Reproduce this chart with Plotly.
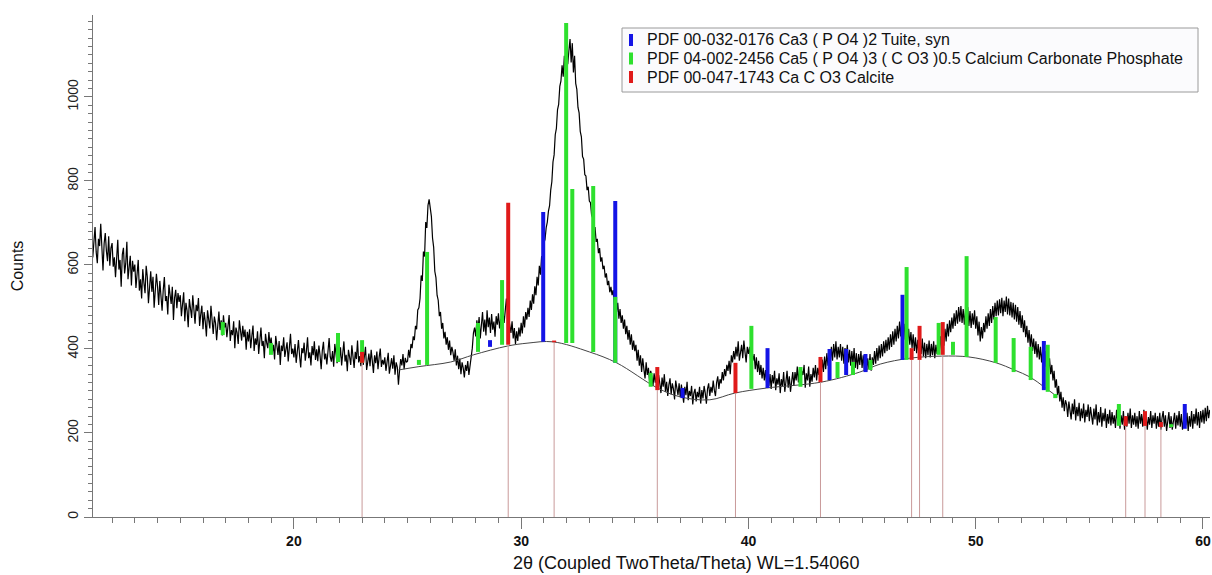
import plotly.graph_objects as go

# ---------------- data ----------------
# scan: rows of counts, each row starts at the given 2theta, step 0.05 deg
scan_step = 0.05
row_starts = [11.1] + [float(d) for d in range(12, 61)]
count_rows = [
    [672, 618, 655, 690, 631, 604, 662, 645, 698, 620, 587, 651, 676, 633, 609, 668, 598, 640],
    [652, 596, 618, 571, 634, 660, 589, 612, 548, 625, 641, 580, 603, 655, 566, 598, 622, 551, 610, 584],
    [601, 545, 578, 612, 539, 566, 520, 590, 557, 533, 598, 571, 509, 560, 585, 536, 572, 498, 555, 579],
    [549, 505, 562, 528, 491, 540, 571, 514, 526, 482, 553, 530, 507, 548, 469, 522, 541, 497, 533, 512],
    [528, 478, 502, 535, 466, 510, 491, 452, 519, 497, 474, 528, 486, 460, 505, 490, 521, 455, 482, 503],
    [447, 488, 465, 430, 492, 471, 449, 503, 458, 436, 477, 462, 421, 470, 489, 445, 468, 432, 480, 451],
    [462, 428, 450, 481, 419, 445, 433, 466, 402, 451, 439, 412, 468, 437, 420, 455, 428, 446, 398, 441],
    [418, 447, 402, 431, 456, 395, 425, 410, 442, 388, 429, 451, 407, 419, 378, 436, 415, 402, 440, 409],
    [427, 392, 410, 375, 431, 403, 386, 419, 362, 408, 395, 428, 381, 399, 416, 370, 405, 436, 388, 401],
    [380, 412, 367, 398, 421, 384, 356, 402, 390, 415, 372, 395, 428, 378, 392, 361, 407, 385, 418, 374],
    [399, 371, 408, 385, 352, 396, 417, 375, 389, 363, 402, 426, 381, 370, 395, 358, 412, 384, 366, 398],
    [375, 404, 361, 390, 418, 370, 386, 347, 398, 381, 362, 409, 388, 355, 393, 376, 420, 368, 383, 359],
    [396, 362, 381, 405, 350, 377, 389, 359, 398, 371, 343, 385, 366, 394, 352, 380, 401, 357, 374, 363],
    [380, 348, 372, 391, 341, 366, 378, 353, 385, 339, 368, 357, 315, 350, 376, 361, 388, 352, 379, 368],
    [371, 398, 379, 412, 402, 430, 421, 455, 447, 493, 498, 520, 575, 562, 632, 620, 702, 688, 742, 756],
    [728, 715, 664, 642, 585, 570, 528, 516, 478, 488, 448, 462, 425, 441, 410, 428, 398, 420, 385, 405],
    [392, 372, 399, 361, 384, 352, 377, 340, 368, 355, 332, 362, 348, 371, 338, 358, 384, 402, 438, 451],
    [430, 468, 447, 476, 425, 459, 488, 441, 470, 432, 492, 452, 475, 438, 483, 446, 465, 429, 478, 458],
    [485, 449, 472, 441, 490, 462, 505, 520, 492, 471, 458, 438, 466, 425, 450, 412, 442, 419, 451, 430],
    [462, 437, 478, 451, 488, 470, 498, 476, 515, 493, 530, 508, 549, 528, 572, 551, 598, 577, 621, 612],
    [652, 661, 688, 702, 728, 741, 778, 798, 845, 862, 910, 925, 970, 982, 1025, 1038, 1075, 1048, 1098, 1062],
    [1125, 1078, 1110, 1138, 1082, 1128, 1058, 1098, 1032, 1018, 975, 962, 918, 905, 858, 852, 815, 812, 778, 786],
    [752, 748, 718, 712, 682, 690, 655, 662, 628, 640, 608, 618, 590, 598, 570, 580, 552, 562, 535, 548],
    [528, 540, 505, 522, 488, 510, 472, 495, 462, 480, 448, 470, 435, 455, 422, 445, 410, 435, 398, 420],
    [395, 410, 372, 398, 360, 385, 345, 378, 352, 330, 368, 338, 355, 322, 348, 335, 312, 342, 320, 336],
    [305, 338, 318, 295, 332, 310, 340, 298, 322, 288, 315, 330, 292, 318, 305, 280, 325, 302, 290, 318],
    [285, 315, 298, 272, 310, 290, 322, 278, 300, 288, 312, 268, 295, 305, 275, 298, 285, 310, 270, 302],
    [282, 312, 295, 270, 305, 318, 288, 310, 296, 325, 302, 288, 320, 335, 305, 328, 318, 345, 325, 352],
    [335, 362, 348, 372, 340, 385, 368, 395, 375, 405, 382, 418, 372, 398, 410, 378, 420, 392, 368, 405],
    [388, 405, 368, 395, 372, 388, 352, 380, 345, 372, 338, 362, 330, 355, 325, 350, 318, 345, 312, 340],
    [305, 338, 318, 348, 302, 330, 315, 342, 295, 328, 312, 345, 298, 322, 348, 308, 335, 298, 325, 345],
    [312, 345, 325, 358, 320, 352, 315, 348, 338, 362, 308, 342, 325, 358, 310, 340, 322, 355, 332, 362],
    [325, 355, 338, 368, 340, 375, 345, 382, 352, 390, 360, 398, 365, 405, 372, 412, 380, 418, 375, 405],
    [380, 412, 372, 405, 365, 402, 378, 410, 368, 398, 360, 395, 365, 402, 355, 390, 352, 388, 362, 395],
    [355, 385, 350, 382, 345, 378, 352, 388, 348, 380, 362, 395, 365, 402, 372, 408, 378, 412, 382, 418],
    [390, 422, 395, 428, 398, 435, 405, 442, 410, 448, 418, 455, 425, 465, 430, 470, 432, 460, 422, 455],
    [418, 448, 410, 440, 402, 435, 395, 428, 390, 422, 385, 418, 388, 425, 382, 415, 378, 412, 385, 420],
    [380, 412, 385, 418, 378, 410, 388, 425, 392, 430, 398, 435, 408, 448, 418, 460, 430, 468, 440, 475],
    [448, 485, 455, 492, 460, 500, 465, 502, 462, 495, 458, 492, 462, 500, 455, 490, 450, 485, 458, 492],
    [448, 478, 432, 465, 418, 452, 425, 462, 440, 478, 448, 485, 455, 495, 462, 502, 470, 510, 478, 515],
    [480, 518, 485, 522, 478, 515, 488, 525, 482, 520, 480, 512, 475, 510, 470, 505, 465, 500, 458, 490],
    [450, 480, 440, 468, 428, 455, 415, 445, 405, 435, 395, 425, 388, 418, 380, 412, 375, 405, 368, 398],
    [365, 395, 358, 388, 350, 378, 340, 362, 325, 348, 308, 328, 290, 312, 275, 298, 260, 285, 252, 278],
    [268, 238, 275, 250, 232, 270, 245, 280, 230, 262, 240, 272, 228, 258, 235, 270, 225, 255, 238, 268],
    [228, 262, 235, 220, 258, 232, 268, 218, 250, 225, 262, 215, 248, 228, 258, 212, 245, 222, 255, 218],
    [250, 222, 242, 212, 255, 228, 248, 210, 242, 220, 252, 208, 240, 215, 248, 222, 258, 212, 242, 220],
    [248, 215, 240, 210, 252, 222, 245, 215, 255, 218, 242, 208, 238, 220, 252, 212, 242, 222, 248, 210],
    [240, 215, 248, 208, 236, 252, 215, 242, 205, 235, 250, 212, 240, 208, 232, 248, 210, 242, 218, 252],
    [215, 245, 208, 238, 255, 218, 248, 205, 240, 215, 252, 210, 245, 222, 258, 218, 250, 212, 252, 225],
    [255, 222, 260, 228, 265, 235, 255],
]

# background (amorphous hump) curve
bg_x = [24.6, 25.5, 26.9, 27.9, 29.4, 30.3, 31.4, 33.0, 34.2, 36.0, 37.0, 38.3,
        39.4, 40.8, 43.2, 44.9, 45.8, 47.1, 48.5, 49.7, 50.9, 51.7, 52.4, 53.0, 53.6]
bg_y = [350, 358, 369, 386, 407, 414, 417, 393, 367, 307, 286, 279,
        295, 307, 321, 345, 364, 378, 383, 381, 367, 350, 333, 310, 286]

# reference patterns: position, base, top
tuite_x = [28.63, 30.97, 34.14, 37.1, 40.84, 43.57, 44.3, 45.15, 46.78, 53.0, 59.2]
tuite_base = [405, 417, 367, 283, 307, 326, 338, 345, 374, 302, 210]
tuite_top = [421, 726, 752, 307, 402, 400, 400, 388, 529, 419, 269]

ccp_x = [16.87, 18.99, 21.94, 23.0, 25.5, 25.86, 28.1, 29.16, 31.98, 32.25, 33.17,
         34.14, 35.7, 40.13, 42.29, 43.92, 44.6, 45.37, 46.96, 48.37, 49.0, 49.6,
         50.88, 51.67, 52.42, 53.17, 53.5, 56.3, 58.6]
ccp_base = [433, 386, 369, 367, 362, 362, 393, 410, 414, 414, 393,
            367, 310, 305, 310, 331, 338, 350, 374, 386, 386, 381,
            367, 345, 326, 298, 283, 217, 214]
ccp_top = [464, 414, 438, 421, 374, 631, 462, 564, 1176, 781, 788,
           524, 343, 455, 357, 369, 369, 374, 595, 462, 417, 621,
           476, 426, 405, 410, 293, 269, 221]

calcite_x = [23.0, 29.43, 31.45, 35.99, 39.43, 43.17, 47.18, 47.53, 48.55, 56.6, 57.45, 58.15]
calcite_base = [367, 410, 416, 302, 295, 321, 374, 374, 386, 217, 217, 214]
calcite_top = [393, 748, 420, 357, 367, 381, 402, 455, 464, 240, 252, 226]

names = ["PDF 00-032-0176 Ca3 ( P O4 )2 Tuite, syn",
         "PDF 04-002-2456 Ca5 ( P O4 )3 ( C O3 )0.5 Calcium Carbonate Phosphate",
         "PDF 00-047-1743 Ca C O3 Calcite"]
colors = ["#1414e6", "#2ee02e", "#e01a1a"]

x_title = "2θ (Coupled TwoTheta/Theta) WL=1.54060"
y_title = "Counts"

# ---------------- build scan arrays ----------------
two_theta, counts = [], []
for start, row in zip(row_starts, count_rows):
    for i, c in enumerate(row):
        two_theta.append(round(start + i * scan_step, 2))
        counts.append(c)

# ---------------- figure ----------------
W, H = 1212, 575
ML, MR, MT, MB = 93, 2, 15, 58
PW, PH = W - ML - MR, H - MT - MB


def px_x(px):
    return (px - ML) / PW


def px_y(py):
    return (H - MB - py) / PH


def sticks(xs, y0s, y1s):
    sx, sy = [], []
    for xv, a, b in zip(xs, y0s, y1s):
        sx += [xv, xv, None]
        sy += [a, b, None]
    return sx, sy


fig = go.Figure()

fig.add_trace(go.Scatter(x=two_theta, y=counts, mode="lines",
                         line=dict(color="#000000", width=1.2),
                         showlegend=False, hoverinfo="skip"))

fig.add_trace(go.Scatter(x=bg_x, y=bg_y, mode="lines", line_shape="spline",
                         line=dict(color="#444444", width=1),
                         showlegend=False, hoverinfo="skip"))

# drop lines for calcite positions
dx, dy = sticks(calcite_x, [0] * len(calcite_x), calcite_base)
fig.add_trace(go.Scatter(x=dx, y=dy, mode="lines",
                         line=dict(color="#c99a9a", width=1),
                         showlegend=False, hoverinfo="skip"))

# reference-pattern sticks, drawn above the scan
for nm, xs, bs, ts, col in [(names[0], tuite_x, tuite_base, tuite_top, colors[0]),
                            (names[1], ccp_x, ccp_base, ccp_top, colors[1]),
                            (names[2], calcite_x, calcite_base, calcite_top, colors[2])]:
    sx, sy = sticks(xs, bs, ts)
    fig.add_trace(go.Scatter(x=sx, y=sy, mode="lines", name=nm,
                             line=dict(color=col, width=4),
                             showlegend=False, hoverinfo="skip"))

# legend box (drawn to match the reference's compact layout)
fig.add_shape(type="rect", xref="paper", yref="paper",
              x0=px_x(622), x1=px_x(1198), y0=px_y(92), y1=px_y(28),
              line=dict(color="#9a9a9a", width=1), fillcolor="#fbfbfd", layer="above")
for k, (nm, col) in enumerate(zip(names, colors)):
    cy = 40 + k * 18.5
    fig.add_shape(type="line", xref="paper", yref="paper",
                  x0=px_x(631), x1=px_x(631), y0=px_y(cy + 6), y1=px_y(cy - 6),
                  line=dict(color=col, width=4), layer="above")
    fig.add_annotation(text=nm, xref="paper", yref="paper",
                       x=px_x(645), y=px_y(cy), xanchor="left", yanchor="middle",
                       showarrow=False, font=dict(size=16, color="#111111"))

fig.add_annotation(text=x_title, xref="paper", yref="paper",
                   x=px_x(686), y=px_y(563),
                   xanchor="center", yanchor="middle", showarrow=False,
                   font=dict(size=18, color="#111111"))

fig.update_layout(
    width=W, height=H,
    margin=dict(l=ML, r=MR, t=MT, b=MB),
    paper_bgcolor="white", plot_bgcolor="white",
    showlegend=False,
    font=dict(family="Liberation Sans, Arial, sans-serif", color="#111111"),
    xaxis=dict(range=[11.16, 60.31], showgrid=False, zeroline=False,
               showline=True, linecolor="#777777", linewidth=1,
               ticks="outside", tickcolor="#777777", ticklen=11,
               tickvals=[20, 30, 40, 50, 60],
               tickfont=dict(size=14, weight="bold", color="#111111"),
               minor=dict(dtick=1, tick0=0, ticks="outside", ticklen=5,
                          tickcolor="#777777")),
    yaxis=dict(range=[0, 1195], showgrid=False, zeroline=False,
               showline=True, linecolor="#777777", linewidth=1,
               ticks="outside", tickcolor="#777777", ticklen=8,
               tickvals=[0, 200, 400, 600, 800, 1000], tickangle=-90,
               tickfont=dict(size=14, color="#222222"),
               minor=dict(dtick=20, tick0=0, ticks="outside", ticklen=4,
                          tickcolor="#777777"),
               title=dict(text=y_title, font=dict(size=16, color="#111111"),
                          standoff=37)),
)

fig.write_html("out.html", config={"displayModeBar": False},
               post_script="document.body.style.margin='0px';")
